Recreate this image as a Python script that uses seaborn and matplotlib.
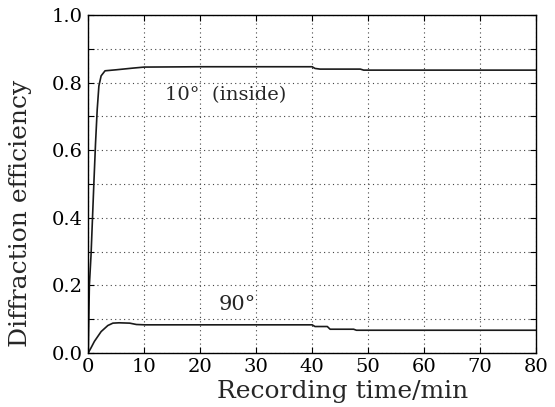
import matplotlib
matplotlib.use("Agg")
import matplotlib.pyplot as plt
import seaborn as sns
import pandas as pd
import numpy as np

# 10 degree (inside) curve
t10 = [0, 0.1, 0.2, 0.5, 1.0, 1.3, 1.6, 1.9, 2.3, 3, 5, 8, 10, 20, 30, 40, 40.5, 41.4, 45, 48.6, 49.2, 60, 70, 80]
e10 = [0.0, 0.10, 0.20, 0.29, 0.50, 0.62, 0.72, 0.79, 0.82, 0.835, 0.838, 0.843, 0.846, 0.847, 0.847, 0.847, 0.842, 0.840, 0.840, 0.840, 0.837, 0.837, 0.837, 0.837]

# 90 degree curve
t90 = [0, 0.5, 1.1, 2.3, 3.5, 4.4, 5.5, 7.4, 8.6, 10.1, 20, 30, 40, 40.5, 42.7, 43.2, 47.4, 47.9, 60, 70, 80]
e90 = [0.0, 0.015, 0.034, 0.063, 0.081, 0.088, 0.089, 0.088, 0.084, 0.083, 0.083, 0.083, 0.083, 0.078, 0.078, 0.070, 0.070, 0.067, 0.067, 0.067, 0.067]

series_labels = ["10\u00b0  (inside)", "90\u00b0"]
xticks = [0, 10, 20, 30, 40, 50, 60, 70, 80]
yticks = [0.0, 0.1, 0.2, 0.3, 0.4, 0.5, 0.6, 0.7, 0.8, 0.9, 1.0]
ytick_labels = ["0.0", "", "0.2", "", "0.4", "", "0.6", "", "0.8", "", "1.0"]

df = pd.concat([
    pd.DataFrame({"t": t10, "eff": e10, "series": series_labels[0]}),
    pd.DataFrame({"t": t90, "eff": e90, "series": series_labels[1]}),
])

sns.set_theme(style="ticks")
plt.rcParams["font.family"] = ["DejaVu Serif"]

fig = plt.figure(figsize=(5.55, 4.07), dpi=100)
ax = fig.add_axes([0.159, 0.133, 0.807, 0.830])

sns.lineplot(data=df, x="t", y="eff", hue="series", palette=["#1a1a1a", "#1a1a1a"],
             linewidth=1.2, legend=False, ax=ax, estimator=None, sort=False)

ax.set_xlim(0, 80)
ax.set_ylim(0, 1.0)
ax.set_xticks(xticks)
ax.set_yticks(yticks)
ax.set_yticklabels(ytick_labels)
ax.tick_params(direction="in", top=True, right=True, labelsize=14, length=4, width=0.8,
               colors="black", pad=4)
ax.grid(True, linestyle=(0, (1, 3)), color="#444444", linewidth=0.8)
for s in ax.spines.values():
    s.set_color("black")
    s.set_linewidth(1.0)

ax.set_xlabel("Recording time/min", fontsize=18)
ax.set_ylabel("Diffraction efficiency", fontsize=18)
ax.xaxis.set_label_coords(0.567, -0.080)
ax.yaxis.set_label_coords(-0.125, 0.414)

ax.text(13.7, 0.763, series_labels[0], fontsize=14, va="center", ha="left")
ax.text(23.2, 0.142, series_labels[1], fontsize=15, va="center", ha="left")

fig.savefig("out.png", dpi=100)
